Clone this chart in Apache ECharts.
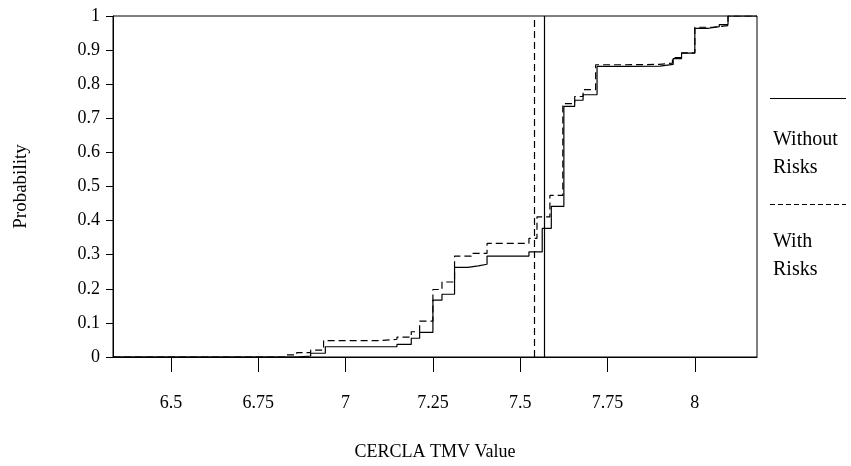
<!DOCTYPE html>
<html>
<head>
<meta charset="utf-8">
<script src="https://cdn.jsdelivr.net/npm/echarts@6/dist/echarts.min.js"></script>
<style>html,body{margin:0;padding:0;background:#fff;}#c{width:851px;height:466px;}</style>
</head>
<body>
<div id="c"></div>
<script>
// Data
const xTicks = [6.5, 6.75, 7, 7.25, 7.5, 7.75, 8];
const seriesNames = ['Without Risks', 'With Risks'];
const legendTexts = ['Without\nRisks', 'With\nRisks'];
const withoutX = [6.334, 6.86, 6.90, 6.942, 7.147, 7.188, 7.212, 7.25, 7.276, 7.312, 7.35, 7.38, 7.405, 7.525, 7.563, 7.589, 7.625, 7.656, 7.68, 7.72, 7.80, 7.90, 7.938, 7.962, 8.00, 8.04, 8.07, 8.095, 8.178];
const withoutY = [0, 0.003, 0.011, 0.03, 0.037, 0.055, 0.072, 0.167, 0.184, 0.263, 0.267, 0.272, 0.296, 0.308, 0.377, 0.442, 0.735, 0.753, 0.769, 0.852, 0.853, 0.858, 0.875, 0.891, 0.964, 0.969, 0.975, 1.0, 1.0];
const withX = [6.334, 6.83, 6.86, 6.90, 6.937, 7.10, 7.147, 7.188, 7.212, 7.25, 7.276, 7.312, 7.36, 7.405, 7.525, 7.548, 7.585, 7.622, 7.656, 7.68, 7.716, 7.80, 7.898, 7.936, 7.962, 8.00, 8.05, 8.095, 8.178];
const withY = [0, 0.006, 0.013, 0.02, 0.048, 0.052, 0.058, 0.074, 0.105, 0.198, 0.22, 0.296, 0.304, 0.333, 0.348, 0.411, 0.474, 0.743, 0.764, 0.784, 0.857, 0.858, 0.862, 0.878, 0.892, 0.967, 0.972, 1.0, 1.0];
const meanWithout = 7.566;
const meanWith = 7.542;

const font = 'Liberation Serif';
const pair = (xs, ys) => xs.map((x, i) => [x, ys[i]]);
const chart = echarts.init(document.getElementById('c'), null, {renderer: 'canvas'});
const dash = [7, 4];
chart.setOption({
  animation: false,
  backgroundColor: '#ffffff',
  grid: {left: 113, top: 16, right: 94, bottom: 109, show: true, borderColor: '#000', borderWidth: 1, backgroundColor: 'transparent'},
  xAxis: {
    type: 'value', min: 6.334, max: 8.178,
    name: 'CERCLA TMV Value', nameLocation: 'middle', nameGap: 86,
    nameTextStyle: {fontFamily: font, fontSize: 18, color: '#000'},
    axisLine: {show: true, lineStyle: {color: '#000', width: 1}},
    axisTick: {show: true, customValues: xTicks, length: 15, lineStyle: {color: '#000'}},
    axisLabel: {customValues: xTicks, margin: 37, fontFamily: font, fontSize: 18, color: '#000', formatter: v => String(v)},
    splitLine: {show: false}
  },
  yAxis: {
    type: 'value', min: 0, max: 1, interval: 0.1,
    name: 'Probability', nameLocation: 'middle', nameGap: 82,
    nameTextStyle: {fontFamily: font, fontSize: 19, color: '#000'},
    axisLine: {show: true, lineStyle: {color: '#000', width: 1}},
    axisTick: {show: true, length: 7, lineStyle: {color: '#000'}},
    axisLabel: {margin: 13, fontFamily: font, fontSize: 18, color: '#000', formatter: v => String(Math.round(v * 10) / 10)},
    splitLine: {show: false}
  },
  series: [
    {
      name: seriesNames[0], type: 'line', step: 'end', showSymbol: false, symbol: 'none',
      data: pair(withoutX, withoutY),
      lineStyle: {color: '#000', width: 1.2},
      markLine: {silent: true, symbol: 'none', label: {show: false},
        lineStyle: {color: '#000', width: 1.2, type: 'solid'},
        data: [{xAxis: meanWithout}]}
    },
    {
      name: seriesNames[1], type: 'line', step: 'end', showSymbol: false, symbol: 'none',
      data: pair(withX, withY),
      lineStyle: {color: '#000', width: 1.2, type: dash},
      markLine: {silent: true, symbol: 'none', label: {show: false},
        lineStyle: {color: '#000', width: 1.2, type: dash},
        data: [{xAxis: meanWith}]}
    }
  ],
  graphic: [
    {type: 'line', shape: {x1: 770, y1: 98.5, x2: 846, y2: 98.5}, style: {stroke: '#000', lineWidth: 1}},
    {type: 'text', left: 773, top: 126, style: {text: legendTexts[0], font: '20px "Liberation Serif"', fill: '#000', lineHeight: 28}},
    {type: 'line', shape: {x1: 770, y1: 204.5, x2: 846, y2: 204.5}, style: {stroke: '#000', lineWidth: 1, lineDash: [5, 3]}},
    {type: 'text', left: 773, top: 228, style: {text: legendTexts[1], font: '20px "Liberation Serif"', fill: '#000', lineHeight: 28}}
  ]
});
</script>
</body>
</html>
